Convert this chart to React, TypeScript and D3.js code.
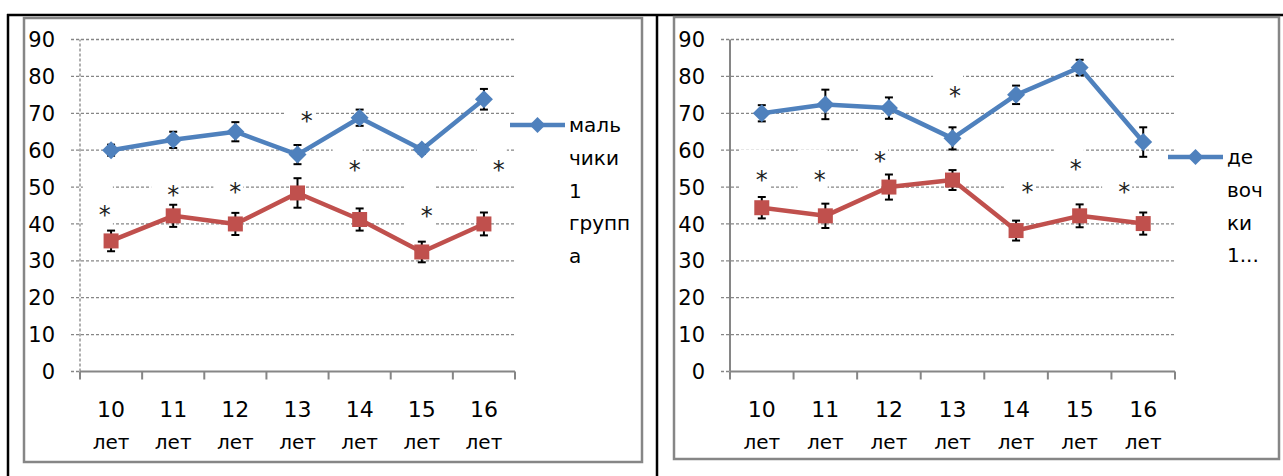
import React, { useEffect, useRef } from "react";
import * as d3 from "d3";

// categories
const ages = ["10", "11", "12", "13", "14", "15", "16"];
const ageUnit = "лет";
const yTicks = [0, 10, 20, 30, 40, 50, 60, 70, 80, 90];

// мальчики (left chart)
const boysBlue = [60.0, 62.8, 65.0, 58.8, 68.8, 60.2, 73.8];
const boysBlueErr = [1.5, 2.2, 2.6, 2.6, 2.2, 1.2, 2.8];
const boysRed = [35.4, 42.2, 40.0, 48.4, 41.2, 32.4, 40.0];
const boysRedErr = [2.8, 3.0, 3.0, 4.0, 3.0, 2.8, 3.1];
const boysStars = [44.0, 49.6, 50.4, 69.7, 56.4, 43.8, 56.4];
const boysStarShift = [-0.1, 0, 0, 0.15, -0.08, 0.08, 0.24];
const boysLegend = ["маль", "чики", "1", "групп", "а"];

// девочки (right chart)
const girlsBlue = [70.0, 72.4, 71.4, 63.2, 75.0, 82.4, 62.2];
const girlsBlueErr = [2.2, 4.0, 2.9, 3.0, 2.5, 2.1, 4.0];
const girlsRed = [44.4, 42.2, 50.0, 51.9, 38.2, 42.2, 40.1];
const girlsRedErr = [2.9, 3.3, 3.4, 2.7, 2.7, 3.1, 3.0];
const girlsStars = [53.7, 53.7, 58.7, 76.3, 50.4, 56.6, 50.4];
const girlsStarShift = [0, -0.09, -0.14, 0.04, 0.18, -0.06, -0.3];
const girlsLegend = ["де", "воч", "ки", "1..."];

const BLUE = "#4f81bd";
const RED = "#c0504d";
const GRID = "#868686";
const FONT = "'DejaVu Sans', Verdana, sans-serif";

const panels = [
  {
    blue: boysBlue, blueErr: boysBlueErr, red: boysRed, redErr: boysRedErr,
    stars: boysStars, starShift: boysStarShift, legend: boysLegend,
    x0: 80, x1: 515, labelX: 55, frame: [24, 18, 642, 462],
    legendX: 510, legendY: 125, dashedAxis: true,
  },
  {
    blue: girlsBlue, blueErr: girlsBlueErr, red: girlsRed, redErr: girlsRedErr,
    stars: girlsStars, starShift: girlsStarShift, legend: girlsLegend,
    x0: 730, x1: 1175, labelX: 705, frame: [674, 17, 1279, 459],
    legendX: 1168, legendY: 157, dashedAxis: false,
  },
];

const diamond = (h) => `M0,${-h}L${h},0L0,${h}L${-h},0Z`;

export default function App() {
  const svgRef = useRef(null);

  useEffect(() => {
    const svg = d3.select(svgRef.current);
    svg.selectAll("*").remove();

    // table borders
    const table = svg.append("g").attr("stroke", "#000").attr("stroke-width", 2.5);
    table.append("line").attr("x1", 7).attr("x2", 1283).attr("y1", 15).attr("y2", 15);
    table.append("line").attr("x1", 8).attr("x2", 8).attr("y1", 14).attr("y2", 476);
    table.append("line").attr("x1", 657).attr("x2", 657).attr("y1", 14).attr("y2", 476);

    panels.forEach((p) => {
      const g = svg.append("g");
      const [fx0, fy0, fx1, fy1] = p.frame;
      g.append("rect")
        .attr("x", fx0).attr("y", fy0)
        .attr("width", fx1 - fx0).attr("height", fy1 - fy0)
        .attr("fill", "#fff").attr("stroke", GRID).attr("stroke-width", 2.5);

      const x = d3.scaleBand().domain(ages).range([p.x0, p.x1]);
      const y = d3.scaleLinear().domain([0, 90]).range([371.5, 39.5]);
      const cx = (i) => x(ages[i]) + x.bandwidth() / 2;

      // gridlines
      g.selectAll(".grid").data(yTicks).enter().append("line")
        .attr("x1", p.x0 - 9)
        .attr("x2", (d) => (d === 0 ? p.x0 : p.x1))
        .attr("y1", (d) => y(d)).attr("y2", (d) => y(d))
        .attr("stroke", GRID).attr("stroke-width", 1.3)
        .attr("stroke-dasharray", "3,2");

      // white boxes of the star labels
      g.selectAll(".starbox").data(p.stars).enter().append("rect")
        .attr("x", (d, i) => cx(i) + p.starShift[i] * x.bandwidth() - 22)
        .attr("y", (d) => y(d) - 24)
        .attr("width", 30).attr("height", 41)
        .attr("fill", "#fff");

      // axes
      const yAxis = g.append("line")
        .attr("x1", p.x0).attr("x2", p.x0)
        .attr("y1", y(0)).attr("y2", y(90))
        .attr("stroke", GRID);
      if (p.dashedAxis) yAxis.attr("stroke-width", 1.3).attr("stroke-dasharray", "3,2");
      else yAxis.attr("stroke-width", 2);

      g.append("line")
        .attr("x1", p.x0).attr("x2", p.x1)
        .attr("y1", y(0)).attr("y2", y(0))
        .attr("stroke", GRID).attr("stroke-width", 2);

      g.selectAll(".xtick").data(d3.range(ages.length + 1)).enter().append("line")
        .attr("x1", (i) => p.x0 + i * x.bandwidth())
        .attr("x2", (i) => p.x0 + i * x.bandwidth())
        .attr("y1", y(0)).attr("y2", y(0) + 8)
        .attr("stroke", GRID).attr("stroke-width", 2);

      // y labels
      g.selectAll(".ylab").data(yTicks).enter().append("text")
        .attr("x", p.labelX).attr("y", (d) => y(d))
        .attr("dy", "0.36em").attr("text-anchor", "end")
        .attr("font-family", FONT).attr("font-size", 21).attr("fill", "#000")
        .text((d) => d);

      // x labels
      const xl = g.selectAll(".xlab").data(ages).enter().append("text")
        .attr("text-anchor", "middle")
        .attr("font-family", FONT).attr("fill", "#000");
      xl.append("tspan")
        .attr("x", (d) => x(d) + x.bandwidth() / 2).attr("y", 417)
        .attr("font-size", 22).text((d) => d);
      xl.append("tspan")
        .attr("x", (d) => x(d) + x.bandwidth() / 2).attr("y", 449)
        .attr("font-size", 20).text(ageUnit);

      const series = [
        { vals: p.red, err: p.redErr, color: RED, marker: "square" },
        { vals: p.blue, err: p.blueErr, color: BLUE, marker: "diamond" },
      ];

      series.forEach((s) => {
        const line = d3.line().x((d, i) => cx(i)).y((d) => y(d));
        g.append("path").datum(s.vals)
          .attr("d", line).attr("fill", "none")
          .attr("stroke", s.color).attr("stroke-width", 4.5)
          .attr("stroke-linejoin", "round");

        const eb = g.append("g").attr("stroke", "#000").attr("stroke-width", 2);
        s.vals.forEach((v, i) => {
          const lo = y(v - s.err[i]), hi = y(v + s.err[i]);
          eb.append("line").attr("x1", cx(i)).attr("x2", cx(i)).attr("y1", lo).attr("y2", hi);
          eb.append("line").attr("x1", cx(i) - 4).attr("x2", cx(i) + 4).attr("y1", lo).attr("y2", lo);
          eb.append("line").attr("x1", cx(i) - 4).attr("x2", cx(i) + 4).attr("y1", hi).attr("y2", hi);
        });

        g.selectAll(null).data(s.vals).enter().append("path")
          .attr("transform", (d, i) => `translate(${cx(i)},${y(d)})`)
          .attr("d", s.marker === "diamond" ? diamond(9) : "M-7.5,-7.5H7.5V7.5H-7.5Z")
          .attr("fill", s.color);
      });

      // significance stars
      g.selectAll(".star").data(p.stars).enter().append("text")
        .attr("x", (d, i) => cx(i) + p.starShift[i] * x.bandwidth())
        .attr("y", (d) => y(d))
        .attr("dy", "0.59em").attr("text-anchor", "middle")
        .attr("font-family", FONT).attr("font-size", 24).attr("fill", "#222")
        .text("*");

      // legend
      const lg = g.append("g");
      lg.append("line")
        .attr("x1", p.legendX).attr("x2", p.legendX + 55)
        .attr("y1", p.legendY).attr("y2", p.legendY)
        .attr("stroke", BLUE).attr("stroke-width", 4.5);
      lg.append("path")
        .attr("transform", `translate(${p.legendX + 27.5},${p.legendY})`)
        .attr("d", diamond(8)).attr("fill", BLUE);
      lg.selectAll("text").data(p.legend).enter().append("text")
        .attr("x", p.legendX + 59).attr("y", (d, i) => p.legendY + i * 32.7)
        .attr("dy", "0.36em")
        .attr("font-family", FONT).attr("font-size", 20).attr("fill", "#000")
        .text((d) => d);
    });
  }, []);

  return (
    <div style={{ position: "absolute", left: 0, top: 0 }}>
      <svg ref={svgRef} width={1283} height={476} style={{ display: "block", background: "#fff" }} />
    </div>
  );
}
